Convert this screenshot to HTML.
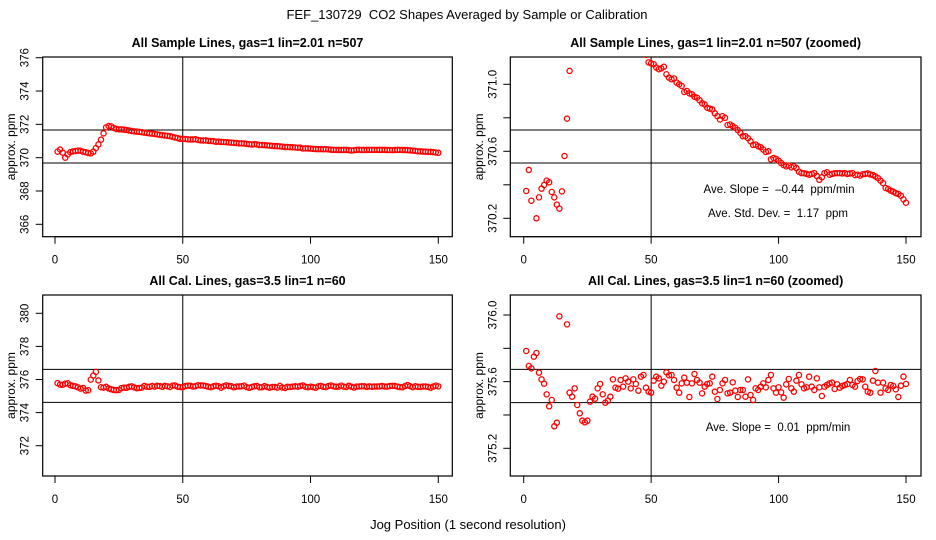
<!DOCTYPE html>
<html><head><meta charset="utf-8"><style>
html,body{margin:0;padding:0;background:#fff;}
svg{display:block;font-family:"Liberation Sans",sans-serif;}
svg text{white-space:pre;}
</style></head><body>
<svg id="chart" width="936" height="540" viewBox="0 0 936 540">
<text x="467" y="19" text-anchor="middle" font-size="13">FEF_130729  CO2 Shapes Averaged by Sample or Calibration</text>
<text x="468" y="529" text-anchor="middle" font-size="13">Jog Position (1 second resolution)</text>
</svg>
<script>
const positions = Array.from({length:150},(_,i)=>i+1);
const sampleValues = [370.363,370.489,370.305,370.00,370.200,370.325,370.377,370.399,370.425,370.415,
370.357,370.325,370.282,370.258,370.361,370.572,370.795,371.080,371.46,371.82,
371.90,371.88,371.78,371.72,371.70,371.70,371.68,371.66,371.63,371.60,
371.58,371.56,371.55,371.53,371.50,371.48,371.46,371.44,371.42,371.40,
371.37,371.35,371.33,371.31,371.29,371.25,371.21,371.175,371.131,371.125,
371.12,371.10,371.09,371.095,371.105,371.06,371.04,371.03,371.035,371.01,
371.00,370.99,370.954,370.96,370.946,370.94,370.926,370.92,370.905,370.887,
370.88,370.86,370.855,370.85,370.827,370.81,370.79,370.81,370.80,370.757,
370.76,370.75,370.74,370.727,370.71,370.69,370.69,370.678,370.66,370.638,
370.64,370.63,370.624,370.61,370.596,370.60,370.552,370.56,370.555,370.544,
370.53,370.518,370.51,370.515,370.504,370.51,370.50,370.478,370.47,370.469,
370.465,370.46,370.465,370.47,370.453,370.43,370.445,370.47,370.475,370.46,
370.465,370.469,370.47,370.47,370.468,370.47,370.465,370.468,370.47,370.458,
370.46,370.455,370.463,370.465,370.468,370.462,370.458,370.45,370.44,370.425,
370.41,370.381,370.375,370.365,370.359,370.35,370.345,370.335,370.313,370.293];
const calValues = [375.784,375.694,375.680,375.750,375.772,375.654,375.614,375.588,375.524,375.452,
375.490,375.332,375.354,375.992,376.24,376.46,375.944,375.534,375.510,375.560,
375.460,375.410,375.366,375.356,375.366,375.480,375.510,375.498,375.560,375.586,
375.524,375.474,375.486,375.510,375.614,375.564,375.558,375.610,375.570,375.620,
375.600,375.560,375.614,375.586,375.546,375.630,375.640,375.564,375.540,375.534,
375.606,375.630,375.620,375.576,375.600,375.656,375.638,375.640,375.610,375.564,
375.534,375.590,375.624,375.594,375.508,375.590,375.646,375.610,375.594,375.530,
375.570,375.586,375.590,375.630,375.540,375.496,375.550,375.590,375.610,375.530,
375.534,375.596,375.546,375.508,375.550,375.550,375.510,375.614,375.520,375.490,
375.560,375.550,375.570,375.590,375.566,375.610,375.640,375.560,375.534,375.566,
375.536,375.504,375.584,375.616,375.560,375.540,375.606,375.640,375.584,375.560,
375.566,375.630,375.570,375.550,375.620,375.566,375.514,375.570,375.580,375.590,
375.594,375.556,375.584,375.564,375.574,375.580,375.586,375.610,375.580,375.570,
375.604,375.616,375.614,375.570,375.540,375.534,375.606,375.664,375.594,375.534,
375.594,375.560,375.550,375.580,375.574,375.554,375.508,375.576,375.630,375.586];
const xTicks = [0,50,100,150];
const p1Ticks = [366,368,370,372,374,376];
const p1Labels = ["366","368","370","372","374","376"];
const p2Ticks = [370.2,370.4,370.6,370.8,371.0];
const p2Labels = ["370.2","","370.6","","371.0"];
const p3Ticks = [372,374,376,378,380];
const p3Labels = ["372","374","376","378","380"];
const p4Ticks = [375.2,375.4,375.6,375.8,376.0];
const p4Labels = ["375.2","","375.6","","376.0"];
const p1HLines = [371.66,369.68];
const p2HLines = [370.727,370.53];
const p3HLines = [376.61,374.62];
const p4HLines = [375.674,375.474];
const vLineX = 50;

const NS="http://www.w3.org/2000/svg";
const svg=document.getElementById('chart');
function mk(tag,attrs,parent){const e=document.createElementNS(NS,tag);for(const k in attrs)e.setAttribute(k,attrs[k]);(parent||svg).appendChild(e);return e;}

const panels=[
 {id:'p1',title:'All Sample Lines, gas=1 lin=2.01 n=507',L:42.7,R:452.3,T:57,B:236.7,x0:55,x150:438.3,ya:376,yap:57.7,yb:366,ybp:224.3,data:sampleValues,ticks:p1Ticks,labels:p1Labels,hl:p1HLines,notes:[]},
 {id:'p2',title:'All Sample Lines, gas=1 lin=2.01 n=507 (zoomed)',L:510.3,R:921,T:57,B:236.7,x0:523.7,x150:906,ya:371.0,yap:84.3,yb:370.2,ybp:218.3,data:sampleValues,ticks:p2Ticks,labels:p2Labels,hl:p2HLines,notes:[['Ave. Slope =  \u20130.44  ppm/min',779,193],['Ave. Std. Dev. =  1.17  ppm',778,217]]},
 {id:'p3',title:'All Cal. Lines, gas=3.5 lin=1 n=60',L:42.7,R:452.3,T:295,B:476,x0:55,x150:438.3,ya:380,yap:313.3,yb:372,ybp:445.7,data:calValues,ticks:p3Ticks,labels:p3Labels,hl:p3HLines,notes:[]},
 {id:'p4',title:'All Cal. Lines, gas=3.5 lin=1 n=60 (zoomed)',L:510.3,R:921,T:295,B:476,x0:523.7,x150:906,ya:376.0,yap:315,yb:375.2,ybp:448.3,data:calValues,ticks:p4Ticks,labels:p4Labels,hl:p4HLines,notes:[['Ave. Slope =  0.01  ppm/min',778,431]]}
];
const defs=mk('defs',{});
panels.forEach((p,pi)=>{
 const xs=v=>p.x0+(v-0)*(p.x150-p.x0)/150;
 const ys=v=>p.yap+(p.ya-v)*(p.ybp-p.yap)/(p.ya-p.yb);
 const g=mk('g',{});
 
 
 const t=mk('text',{x:(p.L+p.R)/2,y:p.T-10,'text-anchor':'middle','font-size':12.5,'font-weight':'bold'},g);
 t.textContent=p.title;
 
 
 const cp=mk('clipPath',{id:'clip'+pi},defs);
 mk('rect',{x:p.L,y:p.T,width:p.R-p.L,height:p.B-p.T},cp);
 const box=mk('rect',{x:p.L,y:p.T,width:p.R-p.L,height:p.B-p.T,fill:'none',stroke:'#000','stroke-width':1.2},g);
 
 
 const xa=mk('g',{},g);
 
 
 mk('line',{x1:xs(xTicks[0]),x2:xs(xTicks[xTicks.length-1]),y1:p.B,y2:p.B,stroke:'#000'},xa);
 xTicks.forEach(v=>{
  mk('line',{x1:xs(v),x2:xs(v),y1:p.B,y2:p.B+7,stroke:'#000'},xa);
  const tl=mk('text',{x:xs(v),y:p.B+27,'text-anchor':'middle','font-size':11.5},xa);
  tl.textContent=String(v);
  
  
 });
 const ya=mk('g',{},g);
 
 
 p.ticks.forEach((v,i)=>{
  const yy=ys(v);
  mk('line',{x1:p.L-7,x2:p.L,y1:yy,y2:yy,stroke:'#000'},ya);
  if(p.labels[i]){
   const tl=mk('text',{x:0,y:0,'text-anchor':'middle','font-size':11.5,transform:`translate(${p.L-14},${yy}) rotate(-90)`},ya);
   tl.textContent=p.labels[i];
   
   
  }
 });
 const yt=mk('text',{x:0,y:0,'text-anchor':'middle','font-size':12,transform:`translate(${p.L-27.5},${(p.T+p.B)/2}) rotate(-90)`},g);
 yt.textContent='approx. ppm';
 
 
 p.hl.forEach(v=>{
  const l=mk('line',{x1:p.L,x2:p.R,y1:ys(v),y2:ys(v),stroke:'#000','stroke-width':1},g);
  
  
 });
 const vl=mk('line',{x1:xs(vLineX),x2:xs(vLineX),y1:p.T,y2:p.B,stroke:'#000','stroke-width':1},g);
 
 
 const pts=mk('g',{'clip-path':`url(#clip${pi})`},g);
 
 
 p.data.forEach((v,i)=>{
  const c=mk('circle',{cx:xs(positions[i]),cy:ys(v),r:2.6,fill:'none',stroke:'#ff0000','stroke-width':1.3},pts);
  
  
 });
 p.notes.forEach(n=>{
  const tn=mk('text',{x:n[1],y:n[2],'text-anchor':'middle','font-size':11.5},g);
  tn.textContent=n[0];
  
  
 });
});
</script>
</body></html>
